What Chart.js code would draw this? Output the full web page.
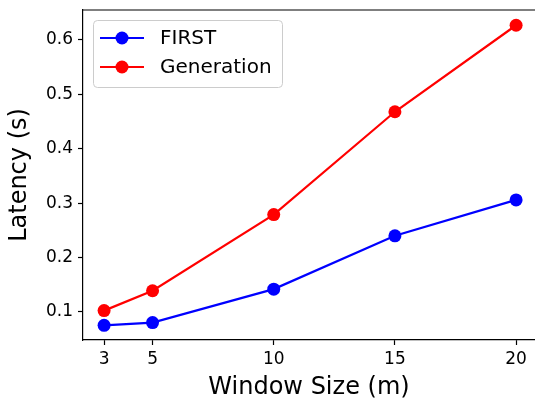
<!DOCTYPE html>
<html>
<head>
<meta charset="utf-8">
<script src="https://cdn.jsdelivr.net/npm/chart.js@4"></script>
<style>
  html, body { margin: 0; padding: 0; background: #fff; overflow: hidden; }
  canvas { display: block; }
</style>
</head>
<body>
<canvas id="chart" width="535" height="400"></canvas>
<script>
const windowSizes = [3, 5, 10, 15, 20]
const firstLatency = [0.0755, 0.0805, 0.142, 0.240, 0.306]
const generationLatency = [0.1025, 0.139, 0.279, 0.468, 0.627]
const xTicks = [3, 5, 10, 15, 20]
const yTicks = [0.1, 0.2, 0.3, 0.4, 0.5, 0.6]

const FONT = "'DejaVu Sans', sans-serif"

function points(ys) {
  return windowSizes.map((x, i) => ({ x, y: ys[i] }))
}

function buildDataset(label, data, color) {
  return {
    label,
    data: points(data),
    borderColor: color,
    backgroundColor: color,
    borderWidth: 2.2,
    pointRadius: 6.5,
    pointHoverRadius: 6.5,
    pointBackgroundColor: color,
    pointBorderColor: color,
    pointBorderWidth: 0,
    tension: 0,
    fill: false
  }
}

// top spine + matplotlib-like legend inside the axes
const framePlugin = {
  id: "frame",
  afterDraw(chart) {
    const { ctx, chartArea: a } = chart
    ctx.save()
    ctx.strokeStyle = "#000"
    ctx.lineWidth = 1.2
    ctx.beginPath()
    ctx.moveTo(a.left, a.top)
    ctx.lineTo(a.right, a.top)
    ctx.stroke()

    const bx = a.left + 10, by = a.top + 10, bw = 189, bh = 67
    ctx.fillStyle = "rgba(255,255,255,0.8)"
    ctx.strokeStyle = "#cccccc"
    ctx.lineWidth = 1
    ctx.beginPath()
    ctx.roundRect(bx + 0.5, by + 0.5, bw, bh, 4)
    ctx.fill()
    ctx.stroke()

    chart.data.datasets.forEach((ds, i) => {
      const y = by + 18 + i * 29
      ctx.strokeStyle = ds.borderColor
      ctx.lineWidth = 2.2
      ctx.beginPath()
      ctx.moveTo(bx + 7, y)
      ctx.lineTo(bx + 51, y)
      ctx.stroke()
      ctx.fillStyle = ds.borderColor
      ctx.beginPath()
      ctx.arc(bx + 29, y, 6.5, 0, Math.PI * 2)
      ctx.fill()
      ctx.fillStyle = "#000"
      ctx.font = "20px " + FONT
      ctx.textBaseline = "middle"
      ctx.fillText(ds.label, bx + 67, y + 1)
    })
    ctx.restore()
  }
}

new Chart(document.getElementById("chart"), {
  type: "line",
  data: {
    datasets: [
      buildDataset("FIRST", firstLatency, "#0000ff"),
      buildDataset("Generation", generationLatency, "#ff0000")
    ]
  },
  options: {
    responsive: false,
    animation: false,
    events: [],
    layout: { autoPadding: false, padding: { top: 10, right: 0, left: 0, bottom: 0 } },
    plugins: {
      legend: { display: false },
      tooltip: { enabled: false }
    },
    scales: {
      x: {
        type: "linear",
        min: 2.13,
        max: 20.78,
        afterBuildTicks: (s) => { s.ticks = xTicks.map(v => ({ value: v })) },
        afterFit: (s) => {
          s.height = 60
          s.paddingLeft = 0
          s.paddingRight = 0
        },
        grid: { display: true, drawOnChartArea: false, drawTicks: true, tickLength: 5, tickColor: "#000", tickWidth: 1.2 },
        border: { display: true, color: "#000", width: 1.2 },
        ticks: {
          autoSkip: false,
          maxRotation: 0,
          padding: 4,
          color: "#000",
          font: { family: FONT, size: 17 },
          callback: (v) => String(v)
        },
        title: {
          display: true,
          text: "Window Size (m)",
          color: "#000",
          font: { family: FONT, size: 24, lineHeight: 1 },
          padding: { top: 0, bottom: 0 }
        }
      },
      y: {
        min: 0.0485,
        max: 0.655,
        afterBuildTicks: (s) => { s.ticks = yTicks.map(v => ({ value: v })) },
        afterFit: (s) => {
          s.width = 83
          s.paddingTop = 0
          s.paddingBottom = 0
        },
        grid: { display: true, drawOnChartArea: false, drawTicks: true, tickLength: 5, tickColor: "#000", tickWidth: 1.2 },
        border: { display: true, color: "#000", width: 1.2 },
        ticks: {
          padding: 5,
          color: "#000",
          font: { family: FONT, size: 17 },
          callback: (v) => v.toFixed(1)
        },
        title: {
          display: true,
          text: "Latency (s)",
          color: "#000",
          font: { family: FONT, size: 24, lineHeight: 1 },
          padding: { top: 8, bottom: 0 }
        }
      }
    }
  },
  plugins: [framePlugin]
})
</script>
</body>
</html>
